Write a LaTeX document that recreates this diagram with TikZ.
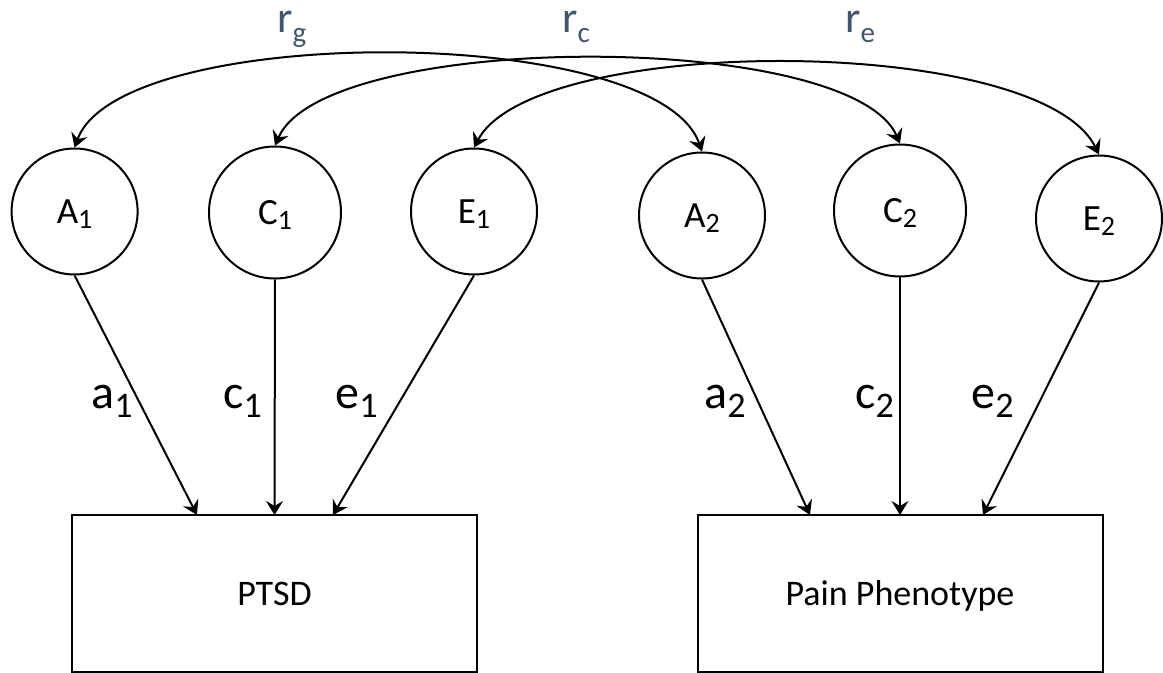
\documentclass[tikz,border=0pt]{standalone}
\usepackage{fontspec}
\setmainfont{Carlito}
\usetikzlibrary{arrows.meta}
\definecolor{corcol}{HTML}{44546A}
\newcommand{\circlab}[2]{#1\raisebox{-2.5pt}{\fontsize{14}{14}\selectfont #2}}
\newcommand{\pathlab}[2]{#1\raisebox{-4.5pt}{\fontsize{18}{18}\selectfont #2}}
\newcommand{\corlab}[2]{#1\raisebox{-5pt}{\fontsize{14.5}{14.5}\selectfont #2}}
\begin{document}
\begin{tikzpicture}[x=0.5pt,y=-0.5pt,
  lat/.style={circle,draw,line width=1pt,inner sep=0pt,minimum size=63pt,text depth=0pt,font=\fontsize{18.5}{20}\selectfont},
  latc/.style={lat,minimum size=66pt},
  obs/.style={rectangle,draw,line width=1pt,minimum width=202.5pt,minimum height=78.5pt,text depth=0pt,font=\fontsize{18}{20}\selectfont},
  loadarrow/.style={-{Stealth[length=7pt,width=8.5pt,inset=2.5pt]},line width=1pt},
  cor/.style={{Stealth[length=7pt,width=8.5pt,inset=2.5pt]}-{Stealth[length=7pt,width=8.5pt,inset=2.5pt]},line width=1pt},
  plab/.style={font=\fontsize{24}{26}\selectfont,inner sep=0pt,anchor=base west},
  clab/.style={font=\fontsize{22}{24}\selectfont,text=corcol,inner sep=0pt,anchor=base west}]
\useasboundingbox[fill=white] (0,0) rectangle (1163,673);

% latent factors
\node[lat]  (a1) at (74.6,211.5) {\circlab{A}{1}};
\node[latc] (c1) at (275,212.5)  {\circlab{C}{1}};
\node[lat]  (e1) at (474,211.5)  {\circlab{E}{1}};
\node[lat]  (a2) at (702,215.5)  {\circlab{A}{2}};
\node[latc] (c2) at (900,210.5)  {\circlab{C}{2}};
\node[lat]  (e2) at (1099,218.5) {\circlab{E}{2}};

% observed variables
\node[obs] (ptsd) at (274.5,593.5) {PTSD};
\node[obs] (pain) at (900,593.5) {Pain Phenotype};

% arrow targets on the boxes
\coordinate (ta1) at (197,515);
\coordinate (tc1) at (274.5,515);
\coordinate (te1) at (333,515);
\coordinate (ta2) at (810,515);
\coordinate (tc2) at (900,515);
\coordinate (te2) at (983,515);

% paths
\draw[loadarrow] (a1.south) -- (ta1);
\draw[loadarrow] (c1.south) -- (tc1);
\draw[loadarrow] (e1.south) -- (te1);
\draw[loadarrow] (a2.south) -- (ta2);
\draw[loadarrow] (c2.south) -- (tc2);
\draw[loadarrow] (e2.south) -- (te2);

% correlations
\draw[cor] (a1.north) .. controls +(45,-125) and +(-45,-129) .. (a2.north);
\draw[cor] (c1.north) .. controls +(50,-115) and +(-50,-114) .. (c2.north);
\draw[cor] (e1.north) .. controls +(60,-114) and +(-60,-121) .. (e2.north);

% path labels
\node[plab] (la1) at (91,409)  {\pathlab{a}{1}};
\node[plab] (lc1) at (223,409) {\pathlab{c}{1}};
\node[plab] (le1) at (335,409) {\pathlab{e}{1}};
\node[plab] (la2) at (704,409) {\pathlab{a}{2}};
\node[plab] (lc2) at (855,409) {\pathlab{c}{2}};
\node[plab] (le2) at (971,409) {\pathlab{e}{2}};

% correlation labels
\node[clab] (lrg) at (277,33) {\corlab{r}{g}};
\node[clab] (lrc) at (562,33) {\corlab{r}{c}};
\node[clab] (lre) at (845,33) {\corlab{r}{e}};
\end{tikzpicture}
\end{document}
